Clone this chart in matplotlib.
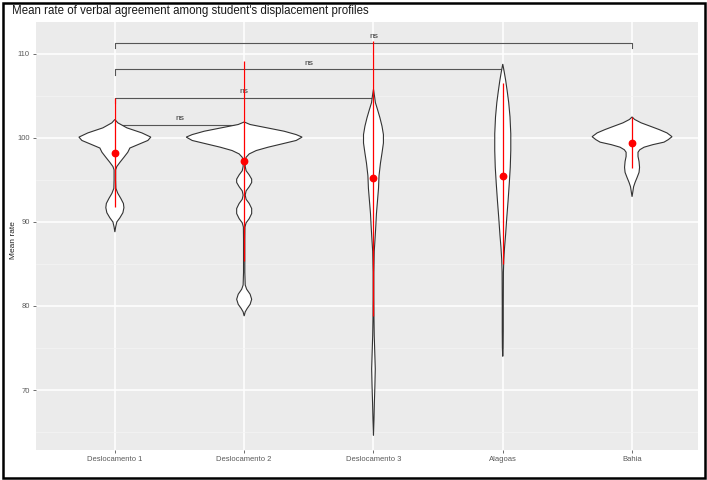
import numpy as np
import matplotlib.pyplot as plt
from matplotlib.patches import Rectangle

plt.rcParams['font.family'] = ['Liberation Sans', 'DejaVu Sans']

groups = ['Deslocamento 1', 'Deslocamento 2', 'Deslocamento 3', 'Alagoas', 'Bahia']

# violin outlines: y value and half width (x units)
desl1_y = [102.2, 101.8, 101.2, 100.6, 100.1, 99.7, 99.3, 98.8, 98.3, 97.7, 97.1, 96.6, 96.2, 95.0,
           94.0, 93.4, 92.8, 92.2, 91.7, 91.1, 90.5, 90.0, 89.4, 88.8]
desl1_w = [0, 0.023, 0.093, 0.209, 0.278, 0.255, 0.193, 0.116, 0.1, 0.07, 0.039, 0.015, 0.006, 0.006,
           0.008, 0.023, 0.046, 0.066, 0.07, 0.062, 0.039, 0.015, 0.006, 0]

desl2_y = [101.9, 101.6, 101.2, 100.8, 100.4, 100.1, 99.7, 99.3, 98.9, 98.5, 98.1, 97.7, 97.2, 96.6,
           96.1, 95.6, 95.1, 94.7, 94.2, 93.7, 93.2, 92.7, 92.2, 91.6, 91.0, 90.4, 89.9, 89.4,
           88.0, 86.0, 84.0, 82.5, 82.0, 81.4, 80.8, 80.2, 79.7, 79.3, 78.8]
desl2_w = [0, 0.046, 0.178, 0.309, 0.402, 0.448, 0.402, 0.294, 0.185, 0.093, 0.039, 0.015, 0.008, 0.008,
           0.015, 0.039, 0.058, 0.058, 0.039, 0.015, 0.008, 0.015, 0.039, 0.058, 0.058, 0.039, 0.015, 0.006,
           0.005, 0.005, 0.005, 0.008, 0.019, 0.046, 0.058, 0.046, 0.023, 0.008, 0]

desl3_y = [105.8, 105.0, 104.2, 103.4, 102.4, 101.4, 100.4, 99.4, 98.2, 97.0, 95.5, 94.0, 92.5, 91.0,
           89.5, 88.2, 86.5, 84.0, 81.0, 78.5, 76.5, 74.5, 72.5, 70.5, 68.5, 66.5, 64.6]
desl3_w = [0, 0.008, 0.015, 0.031, 0.05, 0.066, 0.077, 0.077, 0.066, 0.054, 0.043, 0.039, 0.031, 0.023,
           0.018, 0.013, 0.006, 0.003, 0.003, 0.004, 0.006, 0.01, 0.014, 0.011, 0.007, 0.004, 0]

alagoas_y = [108.8, 107.8, 106.8, 105.5, 104.2, 102.5, 100.5, 98.5, 96.5, 94.5, 92.5, 90.5, 88.5, 87.0,
             85.5, 84.0, 80.0, 77.0, 75.0, 74.0]
alagoas_w = [0, 0.012, 0.023, 0.035, 0.046, 0.056, 0.062, 0.062, 0.058, 0.05, 0.041, 0.031, 0.022, 0.014,
             0.008, 0.005, 0.004, 0.004, 0.003, 0]

bahia_y = [102.5, 102.2, 101.8, 101.4, 101.0, 100.6, 100.15, 99.8, 99.5, 99.2, 98.9, 98.6, 98.3, 97.8,
           97.2, 96.5, 95.9, 95.3, 94.7, 94.2, 93.6, 93.0]
bahia_w = [0, 0.02, 0.07, 0.14, 0.209, 0.27, 0.309, 0.28, 0.247, 0.16, 0.093, 0.06, 0.046, 0.046,
           0.054, 0.058, 0.054, 0.039, 0.023, 0.012, 0.006, 0]

violin_y = [desl1_y, desl2_y, desl3_y, alagoas_y, bahia_y]
violin_w = [desl1_w, desl2_w, desl3_w, alagoas_w, bahia_w]

# red summaries: mean and mean +/- 2 sd
means = [98.2, 97.3, 95.2, 95.5, 99.4]
lows = [91.8, 85.3, 78.8, 85.0, 96.4]
highs = [104.8, 109.1, 111.5, 106.5, 102.5]

# significance brackets (group a, group b, height, label)
brackets = [(1, 2, 101.55, 'ns'), (1, 3, 104.8, 'ns'), (1, 4, 108.15, 'ns'), (1, 5, 111.3, 'ns')]

fig = plt.figure(figsize=(7.07, 4.8), dpi=100)
ax = fig.add_axes([36/707, 30/480, 662/707, 428/480])
ax.set_facecolor('#EBEBEB')
for s in ax.spines.values():
    s.set_visible(False)

pos = np.arange(1, len(groups)+1)
ax.set_xlim(0.39, 5.51)
ax.set_ylim(62.86, 113.8)
ax.set_xticks(pos)
ax.set_xticklabels(groups)
ax.set_yticks([70, 80, 90, 100, 110])
ax.set_yticks([65, 75, 85, 95, 105], minor=True)
ax.grid(which='major', color='white', lw=1.1)
ax.grid(which='minor', axis='y', color='#F5F5F5', lw=0.5)
ax.set_axisbelow(True)
ax.tick_params(which='major', length=2.5, width=0.6, color='#555555', labelsize=5.5,
               labelcolor='#5a5a5a', pad=2)
ax.tick_params(which='minor', length=0)

for i in range(len(groups)):
    y = np.array(violin_y[i])
    w = np.array(violin_w[i])
    xs = np.concatenate([pos[i] - w, (pos[i] + w)[::-1]])
    ys = np.concatenate([y, y[::-1]])
    ax.fill(xs, ys, facecolor='white', edgecolor='#333333', lw=0.8, zorder=3)
    ax.vlines(pos[i], lows[i], highs[i], color='red', lw=0.9, zorder=4)
    ax.plot(pos[i], means[i], 'o', color='red', ms=4.6, zorder=5)

tip = 0.65
for a, b, h, lab in brackets:
    ax.plot([a, a, b, b], [h - tip, h, h, h - tip], color='#555555', lw=0.8, zorder=2.5)
    ax.text((a + b) / 2, h + 0.35, lab, ha='center', va='bottom', fontsize=6, color='#333333')

fig.text(12/707, 1 - 11/480, "Mean rate of verbal agreement among student's displacement profiles",
         fontsize=8.3, va='center', ha='left', color='#1a1a1a')
fig.text(14/707, 0.5, 'Mean rate', rotation=90, fontsize=6, va='center', ha='center', color='#222222')

fig.add_artist(Rectangle((3/707, 2.5/480), 702/707, 475/480, transform=fig.transFigure,
                         fill=False, ec='black', lw=1.8))

fig.savefig('out.png', dpi=100)
